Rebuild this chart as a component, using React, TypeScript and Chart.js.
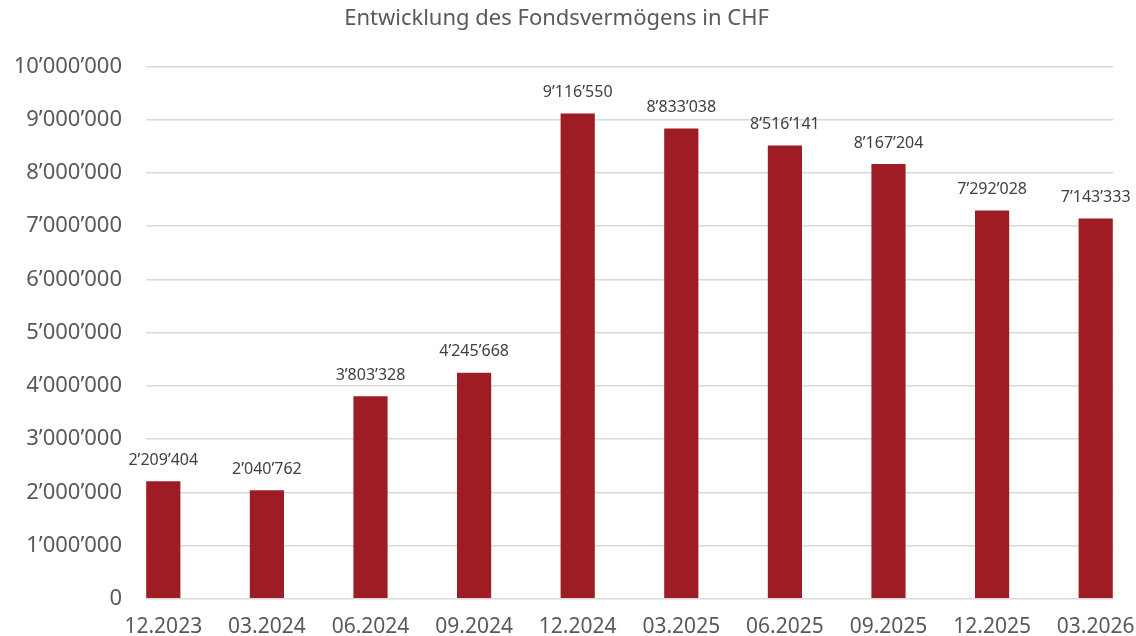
import React, { useEffect, useRef } from "react";
import { Chart, registerables } from "chart.js";

Chart.register(...registerables);

const categories = ["12.2023", "03.2024", "06.2024", "09.2024", "12.2024", "03.2025", "06.2025", "09.2025", "12.2025", "03.2026"];
const fundAssets = [2209404, 2040762, 3803328, 4245668, 9116550, 8833038, 8516141, 8167204, 7292028, 7143333];
const yTicks = [0, 1000000, 2000000, 3000000, 4000000, 5000000, 6000000, 7000000, 8000000, 9000000, 10000000];
const titleText = "Entwicklung des Fondsvermögens in CHF";

const FONT = "'Noto Sans', sans-serif";

function fmt(v: number): string {
  return Math.round(v).toString().replace(/\B(?=(\d{3})+(?!\d))/g, "\u2019");
}

const labelPlugin = {
  id: "barValueLabels",
  afterDatasetsDraw(chart: any) {
    const ctx = chart.ctx;
    const meta = chart.getDatasetMeta(0);
    ctx.save();
    ctx.font = `16px ${FONT}`;
    ctx.fillStyle = "#404040";
    ctx.textAlign = "center";
    ctx.textBaseline = "middle";
    meta.data.forEach((el: any, i: number) => {
      ctx.fillText(fmt(fundAssets[i]), el.x, el.y - 21);
    });
    ctx.restore();
  },
};

export default function App() {
  const ref = useRef<HTMLCanvasElement | null>(null);
  useEffect(() => {
    document.body.style.margin = "0";
    const chart = new Chart(ref.current as HTMLCanvasElement, {
      type: "bar",
      data: {
        datasets: [
          {
            label: "Fondsvermögen",
            data: fundAssets.map((v, i) => ({ x: i, y: v })),
            backgroundColor: "#9E1C23",
            barPercentage: 0.33,
            categoryPercentage: 1,
          },
        ],
      },
      options: {
        animation: false,
        responsive: false,
        maintainAspectRatio: false,
        layout: { padding: { left: 0, right: 23, top: 0, bottom: 0 } },
        plugins: {
          legend: { display: false },
          tooltip: { enabled: false },
          title: {
            display: true,
            text: titleText,
            color: "#595959",
            font: { family: FONT, size: 22, weight: "normal" },
            padding: { top: 6, bottom: 34 },
          },
        },
        scales: {
          x: {
            type: "linear",
            offset: false,
            min: -0.167,
            max: 9.167,
            grid: { display: false, offset: false },
            border: { display: false },
            afterBuildTicks: (scale: any) => {
              scale.ticks = categories.map((_, i) => ({ value: i }));
            },
            afterFit: (scale: any) => {
              scale.height = 37;
              scale.paddingLeft = 0;
              scale.paddingRight = 0;
            },
            ticks: {
              autoSkip: false,
              maxRotation: 0,
              padding: 8,
              color: "#595959",
              font: { family: FONT, size: 21 },
              callback: (v: any) => categories[Math.round(Number(v))] ?? "",
            },
          },
          y: {
            type: "linear",
            min: 0,
            max: 10000000,
            afterBuildTicks: (scale: any) => {
              scale.ticks = yTicks.map((v) => ({ value: v }));
            },
            afterFit: (scale: any) => {
              scale.width = 146;
            },
            grid: { color: "#d9d9d9", lineWidth: 1.5, drawTicks: false },
            border: { display: false },
            ticks: {
              padding: 24,
              color: "#595959",
              font: { family: FONT, size: 22 },
              callback: (v: any) => fmt(Number(v)),
            },
          },
        },
      },
      plugins: [labelPlugin],
    } as any);
    return () => chart.destroy();
  }, []);
  return (
    <div style={{ position: "absolute", left: 0, top: 0, width: 1136, height: 636 }}>
      <canvas ref={ref} width={1136} height={636} style={{ width: 1136, height: 636 }} />
    </div>
  );
}
